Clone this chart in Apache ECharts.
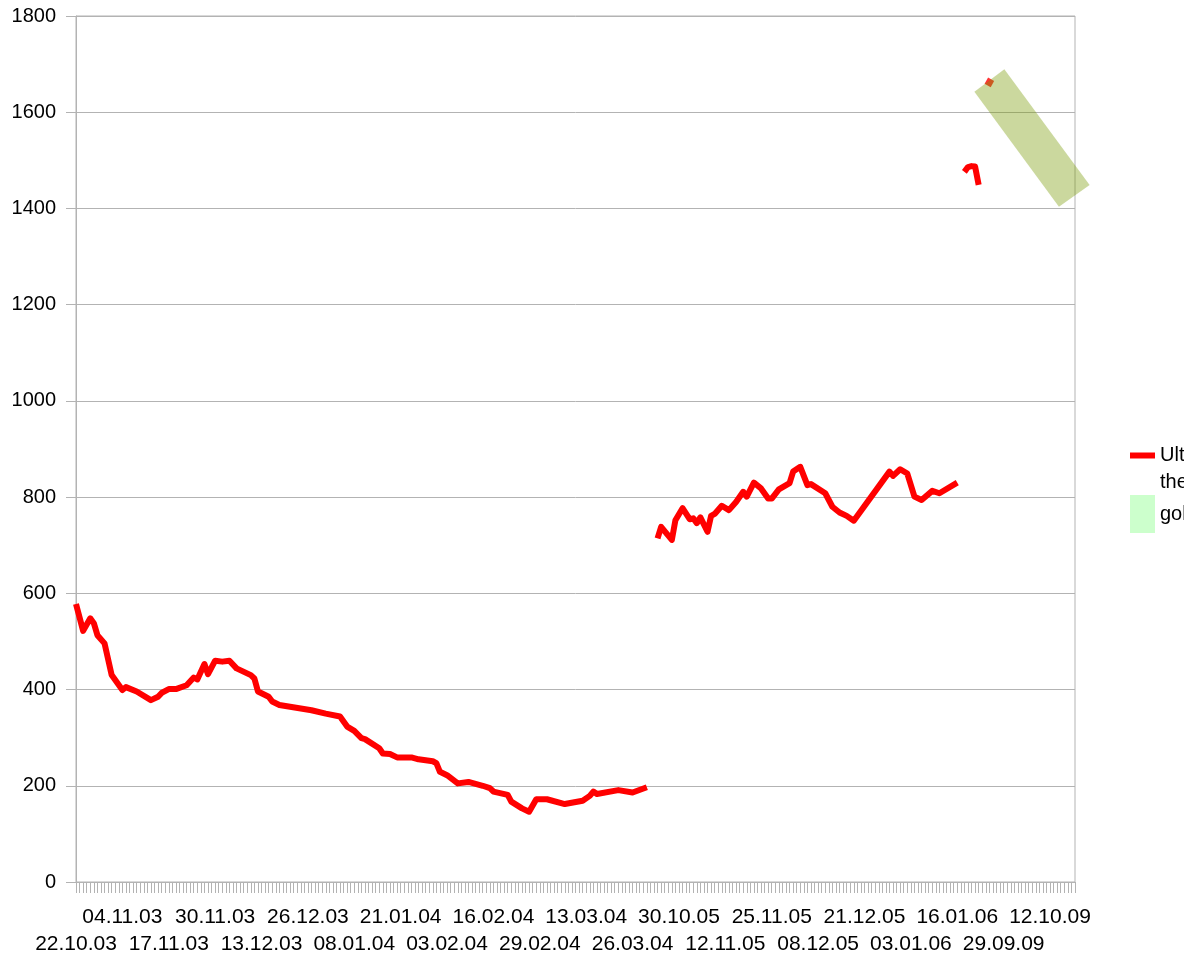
<!DOCTYPE html>
<html>
<head>
<meta charset="utf-8">
<script src="https://cdn.jsdelivr.net/npm/echarts@6/dist/echarts.min.js"></script>
<style>
  html, body { margin: 0; padding: 0; background: #fff; }
  #chart { width: 1184px; height: 960px; }
</style>
</head>
<body>
<div id="chart"></div>
<script>
// date ranges of the category axis (daily, dd.mm.yy)
const dateRanges = [
  ["2003-10-22", "2004-03-31"],
  ["2005-10-23", "2006-01-17"],
  ["2009-09-18", "2009-10-19"],
];

// red series: [day index, value]
const seg1 = [
  [0, 578], [2, 522], [4, 548], [5, 538], [6, 513], [8, 496], [10, 430], [13, 399],
  [14, 405], [17, 396], [21, 378], [23, 385], [24, 393], [26, 401], [28, 401], [31, 409],
  [33, 425], [34, 421], [36, 453], [37, 432], [39, 460], [41, 458], [43, 460], [45, 444],
  [49, 430], [50, 423], [51, 396], [54, 385], [55, 375], [57, 368], [66, 357], [70, 350],
  [74, 344], [76, 323], [78, 314], [80, 299], [81, 297], [85, 278], [86, 267], [88, 266],
  [90, 259], [94, 259], [96, 255], [100, 251], [101, 247], [102, 229], [104, 222], [107, 205],
  [110, 208], [114, 200], [116, 195], [117, 188], [121, 181], [122, 167], [125, 153], [127, 146],
  [129, 172], [132, 172], [137, 162], [142, 169], [144, 179], [145, 188], [146, 183], [152, 191],
  [156, 186], [160, 197],
];
const seg2 = [
  [163, 714], [164, 738], [167, 711], [168, 752], [170, 777], [172, 754], [173, 756], [174, 746],
  [175, 758], [177, 728], [178, 761], [179, 765], [181, 782], [183, 773], [185, 790], [187, 811],
  [188, 801], [190, 830], [192, 818], [194, 797], [195, 797], [197, 816], [200, 829], [201, 853],
  [203, 863], [205, 825], [206, 827], [210, 808], [212, 780], [214, 768], [216, 761], [218, 751],
  [228, 853], [229, 844], [231, 858], [233, 849], [235, 801], [237, 794], [240, 813], [242, 808],
  [247, 830],
];
const seg3 = [[249, 1476], [250, 1486], [251, 1488], [252, 1487], [253, 1449]];
const seg4 = [[256, 1662]];

// green box corners (day index / value)
const goX = [251.8, 260.2, 284.1, 275.5];
const goY = [1642.7, 1689.2, 1448.7, 1403.6];

const yTicks = { min: 0, max: 1800, step: 200 };
const labelStep = 13; // one date label every 13 days, alternating rows

const nameUl = "Ultra price\nthe trend";
const nameGo = "gold";

function buildDates(ranges) {
  const out = [];
  ranges.forEach(([a, b]) => {
    let d = Date.parse(a + "T00:00:00Z");
    const end = Date.parse(b + "T00:00:00Z");
    while (d <= end) {
      const t = new Date(d);
      const dd = String(t.getUTCDate()).padStart(2, "0");
      const mm = String(t.getUTCMonth() + 1).padStart(2, "0");
      const yy = String(t.getUTCFullYear() % 100).padStart(2, "0");
      out.push(dd + "." + mm + "." + yy);
      d += 86400000;
    }
  });
  return out;
}
const dates = buildDates(dateRanges);

const chart = echarts.init(document.getElementById("chart"));
const gray = "#b3b3b3";
const font = "Liberation Sans, Arial, sans-serif";

const redLine = (data) => ({
  type: "line",
  name: nameUl,
  data: data,
  showSymbol: false,
  symbol: "none",
  lineStyle: { color: "#ff0000", width: 6, join: "round" },
  itemStyle: { color: "#ff0000" },
  z: 2,
  silent: true,
});

// a category axis that only carries one row of date labels
const labelRow = (margin, phase) => ({
  type: "category",
  data: dates,
  boundaryGap: false,
  position: "bottom",
  offset: 0,
  axisLine: { show: false },
  axisTick: { show: false },
  splitLine: { show: false },
  axisLabel: {
    margin: margin, fontSize: 21, color: "#000", fontFamily: font,
    interval: (i) => i % (2 * labelStep) === phase,
  },
});

const option = {
  animation: false,
  textStyle: { fontFamily: font },
  grid: {
    left: 76, right: 109, top: 16, bottom: 78,
    show: true, borderColor: gray, borderWidth: 1,
    outerBoundsMode: "none",
  },
  legend: [
    {
      orient: "vertical", left: 1125, top: 410,
      itemWidth: 25, itemHeight: 6, selectedMode: false,
      data: [{ name: nameUl, icon: "rect", itemStyle: { color: "#ff0000" } }],
      formatter: (n) => "\n" + n,
      textStyle: { fontSize: 20, lineHeight: 27, color: "#000", fontFamily: font },
    },
    {
      orient: "vertical", left: 1125, top: 490,
      itemWidth: 25, itemHeight: 38, selectedMode: false,
      data: [{ name: nameGo, icon: "rect", itemStyle: { color: "#ccffcc" } }],
      textStyle: { fontSize: 20, color: "#000", fontFamily: font },
    },
  ],
  xAxis: [
    {
      type: "category",
      data: dates,
      boundaryGap: false,
      axisLine: { lineStyle: { color: gray, width: 1 } },
      axisTick: { show: true, interval: 0, length: 11, lineStyle: { color: gray } },
      axisLabel: { show: false },
      splitLine: { show: false },
    },
    { type: "value", min: 0, max: dates.length - 1, show: false },
    labelRow(25, labelStep), // upper row
    labelRow(52, 0),         // lower row
  ],
  yAxis: {
    type: "value",
    min: yTicks.min, max: yTicks.max, interval: yTicks.step,
    axisLine: { show: true, lineStyle: { color: gray } },
    axisTick: { show: true, length: 10, lineStyle: { color: gray } },
    axisLabel: { margin: 20, fontSize: 20, color: "#000", fontFamily: font, formatter: (v) => String(v) },
    splitLine: { show: true, lineStyle: { color: gray, width: 1 } },
  },
  series: [
    redLine(seg1),
    redLine(seg2),
    redLine(seg3),
    {
      type: "scatter",
      name: nameUl,
      data: seg4,
      symbol: "rect",
      symbolSize: 7,
      symbolRotate: -30,
      itemStyle: { color: "#ff0000" },
      z: 2,
      silent: true,
    },
    {
      type: "custom",
      name: nameGo,
      xAxisIndex: 1,
      silent: true,
      z: 5,
      itemStyle: { color: "#ccffcc" },
      data: goX.map((x, i) => [x, goY[i]]),
      renderItem: (params, api) => {
        if (params.dataIndex !== 0) return null;
        const pts = goX.map((x, i) => api.coord([x, goY[i]]));
        return {
          type: "polygon",
          shape: { points: pts },
          style: { fill: "rgba(119,152,0,0.38)" },
        };
      },
    },
  ],
};

chart.setOption(option);
</script>
</body>
</html>
